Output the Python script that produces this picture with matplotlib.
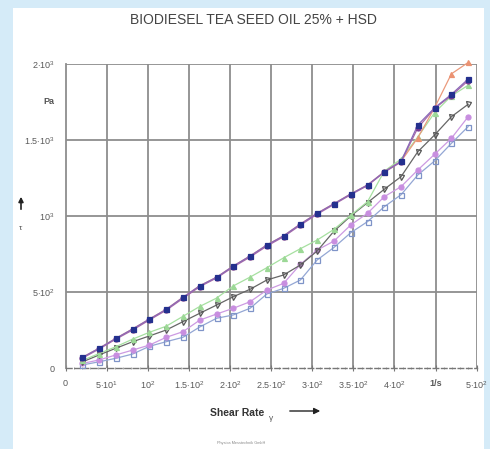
import matplotlib
matplotlib.use("Agg")
import matplotlib.pyplot as plt
from matplotlib.patches import Rectangle

plt.rcParams['font.family'] = ['Liberation Sans', 'DejaVu Sans']
plt.rcParams['mathtext.fontset'] = 'custom'
plt.rcParams['mathtext.rm'] = 'Liberation Sans'
plt.rcParams['mathtext.it'] = 'Liberation Sans'

# Shear rate (1/s)
shear_rate = [20.4, 40.8, 61.2, 81.6, 102, 122.4, 142.8, 163.2, 183.6, 204,
              224.4, 244.8, 265.2, 285.6, 306, 326.4, 346.8, 367.2, 387.6, 408,
              428.4, 448.8, 469.2, 489.6]

# Shear stress (Pa) for each measurement run
stress_orange = [70, 130, 195, 257, 322, 386, 465, 541, 597, 671, 737, 809,
                 870, 947, 1018, 1081, 1145, 1204, 1291, 1360, 1515, 1712, 1935, 2010]
stress_navy = [70, 130, 195, 257, 322, 386, 465, 541, 597, 671, 737, 809,
               870, 947, 1018, 1081, 1145, 1204, 1291, 1360, 1599, 1712, 1800, 1901]
stress_purple = [65, 125, 190, 250, 316, 380, 458, 535, 592, 665, 730, 802,
                 864, 940, 1012, 1076, 1140, 1200, 1288, 1355, 1580, 1708, 1792, 1890]
stress_green = [50, 95, 140, 190, 235, 275, 340, 405, 460, 540, 598, 660,
                725, 785, 842, 912, 1005, 1094, 1295, 1375, 1520, 1680, 1790, 1860]
stress_gray = [40, 86, 130, 173, 211, 250, 305, 360, 414, 469, 518, 579,
               612, 678, 770, 900, 1000, 1088, 1176, 1259, 1423, 1533, 1653, 1735]
stress_pink = [30, 53, 86, 118, 151, 202, 239, 315, 355, 393, 436, 513,
               557, 682, 776, 835, 941, 1018, 1127, 1193, 1303, 1406, 1511, 1653]
stress_lightblue = [20, 41, 64, 92, 143, 173, 202, 270, 327, 349, 393, 487,
                    524, 579, 711, 793, 890, 963, 1061, 1140, 1270, 1362, 1478, 1588]

x_ticks = [0, 50, 100, 150, 200, 250, 300, 350, 400, 450, 500]
x_tick_labels = ['0', r'$5{\cdot}10^{1}$', r'$10^{2}$', r'$1.5{\cdot}10^{2}$',
                 r'$2{\cdot}10^{2}$', r'$2.5{\cdot}10^{2}$', r'$3{\cdot}10^{2}$',
                 r'$3.5{\cdot}10^{2}$', r'$4{\cdot}10^{2}$', '1/s', r'$5{\cdot}10^{2}$']
y_ticks = [0, 500, 1000, 1500, 2000]
y_tick_labels = ['0', r'$5{\cdot}10^{2}$', r'$10^{3}$', r'$1.5{\cdot}10^{3}$', r'$2{\cdot}10^{3}$']

fig = plt.figure(figsize=(4.9, 4.49), dpi=100)
fig.patch.set_facecolor('#d5ebf8')
fig.patches.append(Rectangle((13 / 490, 0), (484 - 13) / 490, 1 - 8 / 449,
                             transform=fig.transFigure, facecolor='white',
                             edgecolor='none', zorder=-5))

ax = fig.add_axes([65.6 / 490, 1 - 368 / 449, (476.7 - 65.6) / 490, (368 - 64) / 449])
ax.set_zorder(2)
ax.set_facecolor('white')
ax.set_xlim(0, 500)
ax.set_ylim(0, 2000)

grid_c = '#8e8e8e'
for xv in x_ticks[1:]:
    ax.axvline(xv, color=grid_c, lw=1.3, zorder=1)
for yv in y_ticks[1:]:
    ax.axhline(yv, color=grid_c, lw=1.3, zorder=1)

# (values, line colour, marker, marker face, marker edge)
series = [
    (stress_lightblue, '#93a6d4', 's', 'none', '#7f94c8'),
    (stress_pink, '#cc9ae2', 'o', '#c88ee0', '#c88ee0'),
    (stress_gray, '#666666', 'v', 'none', '#555555'),
    (stress_green, '#a6e0a0', '^', '#9cd896', '#9cd896'),
    (stress_orange, '#eb9a7c', '^', '#eb9272', '#eb9272'),
    (stress_purple, '#a66aa8', 'o', '#7a3a92', '#7a3a92'),
    (stress_navy, '#8a68b8', 's', '#24308e', '#24308e'),
]
for values, color, marker, face, edge in series:
    ax.plot(shear_rate, values, color=color, lw=0.9, marker=marker,
            markersize=3.6, markerfacecolor=face, markeredgecolor=edge,
            markeredgewidth=0.9, zorder=3, clip_on=False)

for side in ['top', 'right']:
    ax.spines[side].set_visible(False)
ax.spines['left'].set_color(grid_c)
ax.spines['left'].set_linewidth(1.3)
ax.spines['bottom'].set_color('#777777')
ax.spines['bottom'].set_linewidth(1.0)
ax.spines['bottom'].set_linestyle((0, (4, 2)))

ax.set_xticks(x_ticks)
ax.set_xticklabels(x_tick_labels)
ax.set_xticks(range(0, 501, 10), minor=True)
ax.tick_params(axis='x', which='major', length=4, width=0.8, colors='#777777',
               labelcolor='#5a5a5a', labelsize=6.5, pad=6, direction='inout')
ax.tick_params(axis='x', which='minor', length=2, width=0.6, colors='#999999',
               direction='inout')
ax.get_xticklabels()[9].set_fontweight('bold')
ax.set_yticks(y_ticks)
ax.set_yticklabels(y_tick_labels)
ax.tick_params(axis='y', length=0, labelcolor='#5a5a5a', labelsize=6.5, pad=8)

fig.text(253 / 490, 1 - 20 / 449, 'BIODIESEL TEA SEED OIL 25% + HSD',
         ha='center', va='center', fontsize=10, color='#444444')
fig.text(49 / 490, 1 - 101 / 449, 'Pa', ha='center', va='center',
         fontsize=6.5, fontweight='bold', color='#555555')
ax.annotate('', xy=(21 / 490, 1 - 194 / 449), xytext=(21 / 490, 1 - 212 / 449),
            xycoords='figure fraction', textcoords='figure fraction',
            annotation_clip=False,
            arrowprops=dict(arrowstyle='-|>', color='#222222', lw=1.2,
                            mutation_scale=7))
fig.text(21 / 490, 1 - 228 / 449, 'τ', ha='center', va='center',
         fontsize=6, color='#555555')
fig.text(237 / 490, 1 - 413 / 449, 'Shear Rate', ha='center', va='center',
         fontsize=7.5, fontweight='bold', color='#333333')
fig.text(271 / 490, 1 - 419 / 449, 'γ', ha='center', va='center',
         fontsize=6, color='#555555')
ax.annotate('', xy=(323 / 490, 1 - 411 / 449), xytext=(287 / 490, 1 - 411 / 449),
            xycoords='figure fraction', textcoords='figure fraction',
            annotation_clip=False,
            arrowprops=dict(arrowstyle='-|>', color='#222222', lw=1.0,
                            mutation_scale=9))
fig.text(241 / 490, 1 - 443 / 449, 'Physica Messtechnik GmbH', ha='center',
         va='center', fontsize=2.8, color='#888888')

fig.savefig('out.png', dpi=100, facecolor=fig.get_facecolor())
